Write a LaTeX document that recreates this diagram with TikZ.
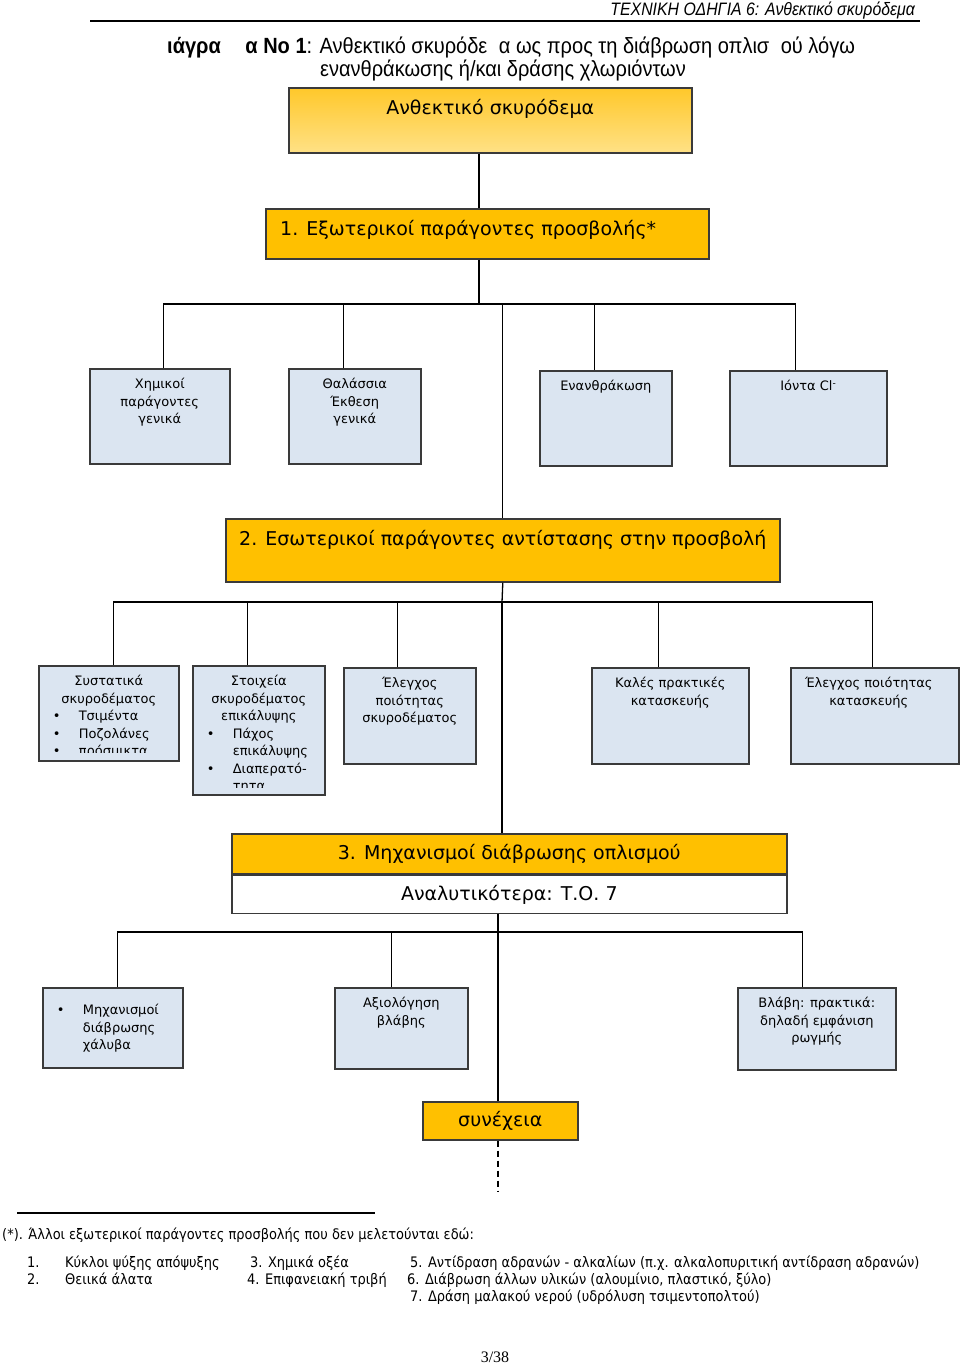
\documentclass[tikz,border=0pt]{standalone}
\usepackage{fontspec}
\setmainfont{DejaVu Sans}
\newfontfamily\titlefont[FakeStretch=0.91]{Liberation Sans}
\newfontfamily\headfont[FakeStretch=0.88]{Liberation Sans}
\newfontfamily\notefont[FakeStretch=0.895]{DejaVu Sans}
\newfontfamily\pagefont{Liberation Serif}
\usetikzlibrary{positioning}
\setlength{\parindent}{0pt}

\definecolor{paleblue}{HTML}{DBE5F1}
\definecolor{gold}{HTML}{FFC000}
\definecolor{goldtop}{HTML}{FFC82A}
\definecolor{goldlow}{HTML}{FFE186}
\definecolor{edgegrey}{HTML}{3A3A3A}

% bullet lines inside the small boxes
\newcommand{\bulitem}[1]{\par\hspace*{14pt}\makebox[26pt][l]{•}#1}
\newcommand{\contitem}[1]{\par\hspace*{40pt}#1}

\begin{document}
\begin{tikzpicture}[x=1pt, y=-1pt,
        framebox/.style={rectangle, draw=edgegrey, line width=1.6pt, anchor=north west, inner sep=0pt},
        topic/.style={framebox, fill=paleblue},
        goldbox/.style={framebox, fill=gold, font=\fontsize{19}{23}\selectfont},
        boxtext/.style={font=\fontsize{13}{17.5}\selectfont, align=center, inner sep=0pt},
        listtext/.style={font=\fontsize{13}{17.5}\selectfont, inner sep=0pt},
        bigtext/.style={font=\fontsize{19}{23}\selectfont, inner sep=0pt},
        titletext/.style={font=\titlefont\fontsize{22}{26}\selectfont, anchor=base west, inner sep=0pt},
        notetext/.style={font=\notefont\fontsize{14.5}{17}\selectfont, anchor=base west, inner sep=0pt},
        link/.style={line width=1.3pt},
        trunk/.style={line width=2.6pt}
    ]
    \useasboundingbox (0,0) rectangle (960,1364);

    % Page header
    \node[font=\headfont\itshape\fontsize{18}{20}\selectfont, anchor=base east, inner sep=0pt] (header) at (915,16) {ΤΕΧΝΙΚΗ ΟΔΗΓΙΑ 6: Ανθεκτικό σκυρόδεμα};
    \draw[line width=1.8pt] (90,21) -- (920,21);

    % Title
    \node[titletext] (titleone) at (167,54) {\textbf{ιάγρα\phantom{μμ}α No 1}: Ανθεκτικό σκυρόδε\phantom{μ}α ως προς τη διάβρωση οπλισ\phantom{μ}ού λόγω};
    \node[titletext] (titletwo) at (320,77) {ενανθράκωσης ή/και δράσης χλωριόντων};

    % Top box
    \node[framebox, top color=goldtop, bottom color=goldlow, minimum width=403pt, minimum height=65pt] (durable) at (288,87) {};
    \node[bigtext, below=12pt of durable.north] (durabletxt) {Ανθεκτικό σκυρόδεμα};

    % 1. External factors
    \node[goldbox, minimum width=443pt, minimum height=50pt] (ext) at (265,208) {};
    \node[bigtext, right=15pt of ext.west, yshift=4pt] (exttxt) {1. Εξωτερικοί παράγοντες προσβολής*};

    \node[topic, minimum width=140pt, minimum height=95pt] (chem) at (89,368) {};
    \node[boxtext, below=10pt of chem.north] (chemtxt) {Χημικοί\\παράγοντες\\γενικά};
    \node[topic, minimum width=132pt, minimum height=95pt] (marine) at (288,368) {};
    \node[boxtext, below=10pt of marine.north] (marinetxt) {Θαλάσσια\\Έκθεση\\γενικά};
    \node[topic, minimum width=132pt, minimum height=95pt] (carb) at (539,370) {};
    \node[boxtext, below=10pt of carb.north] (carbtxt) {Ενανθράκωση};
    \node[topic, minimum width=157pt, minimum height=95pt] (chloride) at (729,370) {};
    \node[boxtext, below=10pt of chloride.north] (chloridetxt) {Ιόντα Cl\textsuperscript{-}};

    % 2. Internal factors
    \node[goldbox, minimum width=554pt, minimum height=63pt] (intl) at (225,518) {};
    \node[bigtext, below=12pt of intl.north] (intltxt) {2. Εσωτερικοί παράγοντες αντίστασης στην προσβολή};

    \node[topic, minimum width=140pt, minimum height=95pt] (mix) at (38,665) {};
    \begin{scope}
        \clip (mix.north west) rectangle ([yshift=9pt]mix.south east);
        \node[listtext, text width=140pt, below=10pt of mix.north] (mixtxt) {{\centering Συστατικά\\σκυροδέματος\par}\bulitem{Τσιμέντα}\bulitem{Ποζολάνες}\bulitem{πρόσμικτα}};
    \end{scope}
    \node[topic, minimum width=132pt, minimum height=129pt] (cover) at (192,665) {};
    \begin{scope}
        \clip (cover.north west) rectangle ([yshift=8pt]cover.south east);
        \node[listtext, text width=132pt, below=10pt of cover.north] (covertxt) {{\centering Στοιχεία\\σκυροδέματος\\επικάλυψης\par}\bulitem{Πάχος}\contitem{επικάλυψης}\bulitem{Διαπερατό-}\contitem{τητα}};
    \end{scope}
    \node[topic, minimum width=132pt, minimum height=96pt] (quality) at (343,667) {};
    \node[boxtext, below=10pt of quality.north] (qualitytxt) {Έλεγχος\\ποιότητας\\σκυροδέματος};
    \node[topic, minimum width=157pt, minimum height=96pt] (practice) at (591,667) {};
    \node[boxtext, below=10pt of practice.north] (practicetxt) {Καλές πρακτικές\\κατασκευής};
    \node[topic, minimum width=168pt, minimum height=96pt] (control) at (790,667) {};
    \node[boxtext, below=10pt of control.north, xshift=-6pt] (controltxt) {Έλεγχος ποιότητας\\κατασκευής};

    % 3. Corrosion mechanisms
    \node[goldbox, minimum width=555pt, minimum height=40pt] (mech) at (231,833) {3. Μηχανισμοί διάβρωσης οπλισμού};
    \node[framebox, fill=white, minimum width=555pt, minimum height=38pt, font=\fontsize{19}{23}\selectfont, below=0pt of mech] (detail) {Αναλυτικότερα: Τ.Ο. 7};

    \node[topic, minimum width=140pt, minimum height=80pt] (steel) at (42,987) {};
    \node[listtext, text width=140pt, below=10pt of steel.north] (steeltxt) {\bulitem{Μηχανισμοί}\contitem{διάβρωσης}\contitem{χάλυβα}};
    \node[topic, minimum width=133pt, minimum height=81pt] (assess) at (334,987) {};
    \node[boxtext, below=10pt of assess.north] (assesstxt) {Αξιολόγηση\\βλάβης};
    \node[topic, minimum width=158pt, minimum height=82pt] (damage) at (737,987) {};
    \node[boxtext, below=10pt of damage.north] (damagetxt) {Βλάβη: πρακτικά:\\δηλαδή εμφάνιση\\ρωγμής};

    \node[goldbox, minimum width=155pt, minimum height=38pt] (cont) at (422,1101) {συνέχεια};

    % Bus points
    \coordinate (bus1) at (479,304);
    \coordinate (bus2) at (502,602);
    \coordinate (trunkend) at (502,803);
    \coordinate (bus3) at (498,932);
    \coordinate (tailend) at (498,1192);

    % Connectors level 1
    \draw[link] (durable.south -| bus1) -- (ext.north -| bus1);
    \draw[link] (ext.south -| bus1) -- (bus1);
    \draw[link] ([xshift=4pt]chem.north) |- (bus1);
    \draw[link] ([xshift=-11pt]marine.north) |- (bus1);
    \draw[link] ([xshift=-11pt]carb.north) |- (bus1);
    \draw[link] ([xshift=-13pt]chloride.north) |- (bus1);
    \draw[link] (intl.north) |- (bus1);

    % Connectors level 2
    \draw[link] (intl.south) -- (bus2);
    \draw[link] ([xshift=5pt]mix.north) |- (bus2);
    \draw[link] ([xshift=-11pt]cover.north) |- (bus2);
    \draw[link] ([xshift=-12pt]quality.north) |- (bus2);
    \draw[link] ([xshift=-12pt]practice.north) |- (bus2);
    \draw[link] ([xshift=-2pt]control.north) |- (bus2);
    \draw[trunk] (bus2) -- (trunkend);
    \draw[link] (trunkend) -- (mech.north -| trunkend);

    % Connectors level 3
    \draw[link] (detail.south -| bus3) -- (cont.north -| bus3);
    \draw[link] ([xshift=5pt]steel.north) |- (bus3);
    \draw[link] ([xshift=-10pt]assess.north) |- (bus3);
    \draw[link] ([xshift=-14pt]damage.north) |- (bus3);
    \draw[link, dash pattern=on 6pt off 4pt] (cont.south -| bus3) -- (tailend);

    % Footnote
    \draw[line width=1.4pt] (17,1213) -- (375,1213);
    \node[notetext] (noteintro) at (2,1239) {(*). Άλλοι εξωτερικοί παράγοντες προσβολής που δεν μελετούνται εδώ:};
    \node[notetext] (numone) at (27,1267) {1.};
    \node[notetext] (itemone) at (65,1267) {Κύκλοι ψύξης απόψυξης};
    \node[notetext] (itemthree) at (250,1267) {3. Χημικά οξέα};
    \node[notetext] (itemfive) at (410,1267) {5. Αντίδραση αδρανών - αλκαλίων (π.χ. αλκαλοπυριτική αντίδραση αδρανών)};
    \node[notetext] (numtwo) at (27,1284) {2.};
    \node[notetext] (itemtwo) at (65,1284) {Θειικά άλατα};
    \node[notetext] (itemfour) at (247,1284) {4. Επιφανειακή τριβή};
    \node[notetext] (itemsix) at (407,1284) {6. Διάβρωση άλλων υλικών (αλουμίνιο, πλαστικό, ξύλο)};
    \node[notetext] (itemseven) at (410,1301) {7. Δράση μαλακού νερού (υδρόλυση τσιμεντοπολτού)};

    % Page number
    \node[font=\pagefont\fontsize{16}{18}\selectfont, anchor=base, inner sep=0pt] (pagenum) at (495,1362) {3/38};
\end{tikzpicture}
\end{document}
